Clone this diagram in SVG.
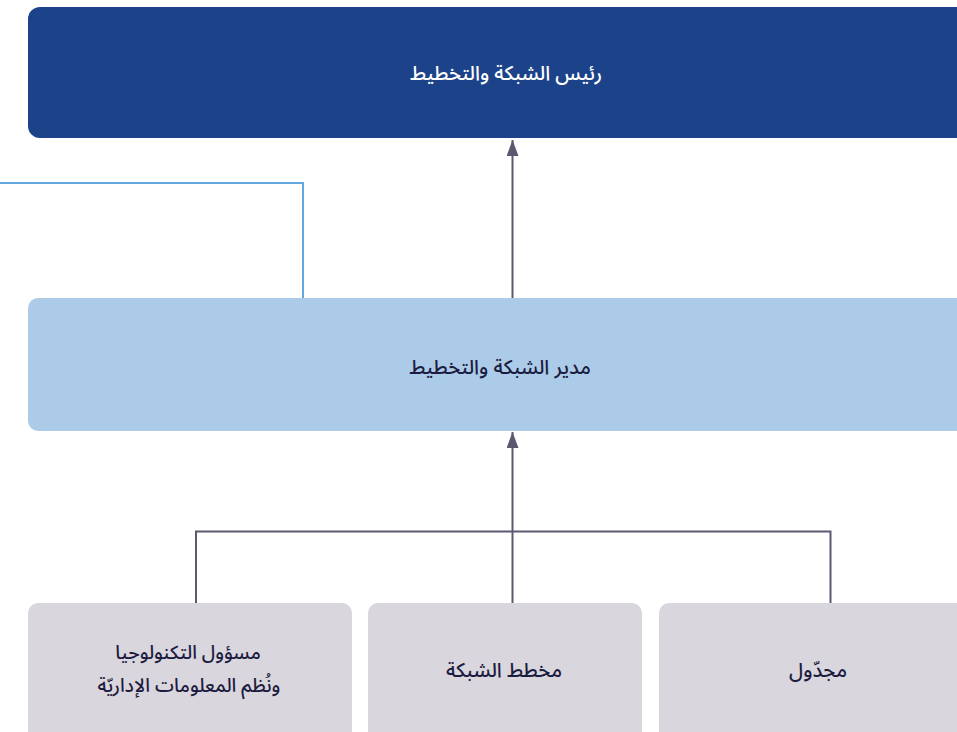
<svg xmlns="http://www.w3.org/2000/svg" width="957" height="732" viewBox="0 0 957 732">
<defs>
<style>
.t{font-family:"Noto Sans Arabic","DejaVu Sans","Noto Sans",sans-serif;font-size:20px;text-anchor:middle;direction:rtl;font-weight:500}
.s{font-size:19px}
.dark{fill:#1c1b40}
.conn{fill:none;stroke:#5b5872;stroke-width:2}
</style>
<marker id="ah" viewBox="0 0 16 12" refX="16" refY="6" markerWidth="16" markerHeight="12" markerUnits="userSpaceOnUse" orient="auto">
<path d="M0,0 L16,6 L0,12 Z" fill="#5b5872"/>
</marker>
</defs>
<rect width="957" height="732" fill="#ffffff"/>
<g id="connectors">
<path d="M0,183 H303 V298" fill="none" stroke="#62a8de" stroke-width="2"/>
<line x1="512.5" y1="298" x2="512.5" y2="140" class="conn" marker-end="url(#ah)"/>
<line x1="512.5" y1="603" x2="512.5" y2="432" class="conn" marker-end="url(#ah)"/>
<path d="M196,603 V531.5 H830.5 V603" class="conn"/>
</g>
<g id="head">
<rect x="28" y="7" width="960" height="131" rx="12" fill="#1c4389"/>
<text class="t" x="506" y="80" fill="#ffffff">رئيس الشبكة والتخطيط</text>
</g>
<g id="manager">
<rect x="28" y="298" width="960" height="133" rx="10" fill="#abcbe9"/>
<text class="t dark" x="500" y="374">مدير الشبكة والتخطيط</text>
</g>
<g id="it">
<rect x="28" y="603" width="324" height="150" rx="10" fill="#d9d6de"/>
<text class="t s dark" x="188" y="659">مسؤول التكنولوجيا</text>
<text class="t s dark" x="189" y="692">ونُظم المعلومات الإداريّة</text>
</g>
<g id="planner">
<rect x="368" y="603" width="274" height="150" rx="10" fill="#d9d6de"/>
<text class="t dark" x="504" y="677">مخطط الشبكة</text>
</g>
<g id="scheduler">
<rect x="659" y="603" width="330" height="150" rx="10" fill="#d9d6de"/>
<text class="t dark" x="818" y="677">مجدّول</text>
</g>
</svg>
